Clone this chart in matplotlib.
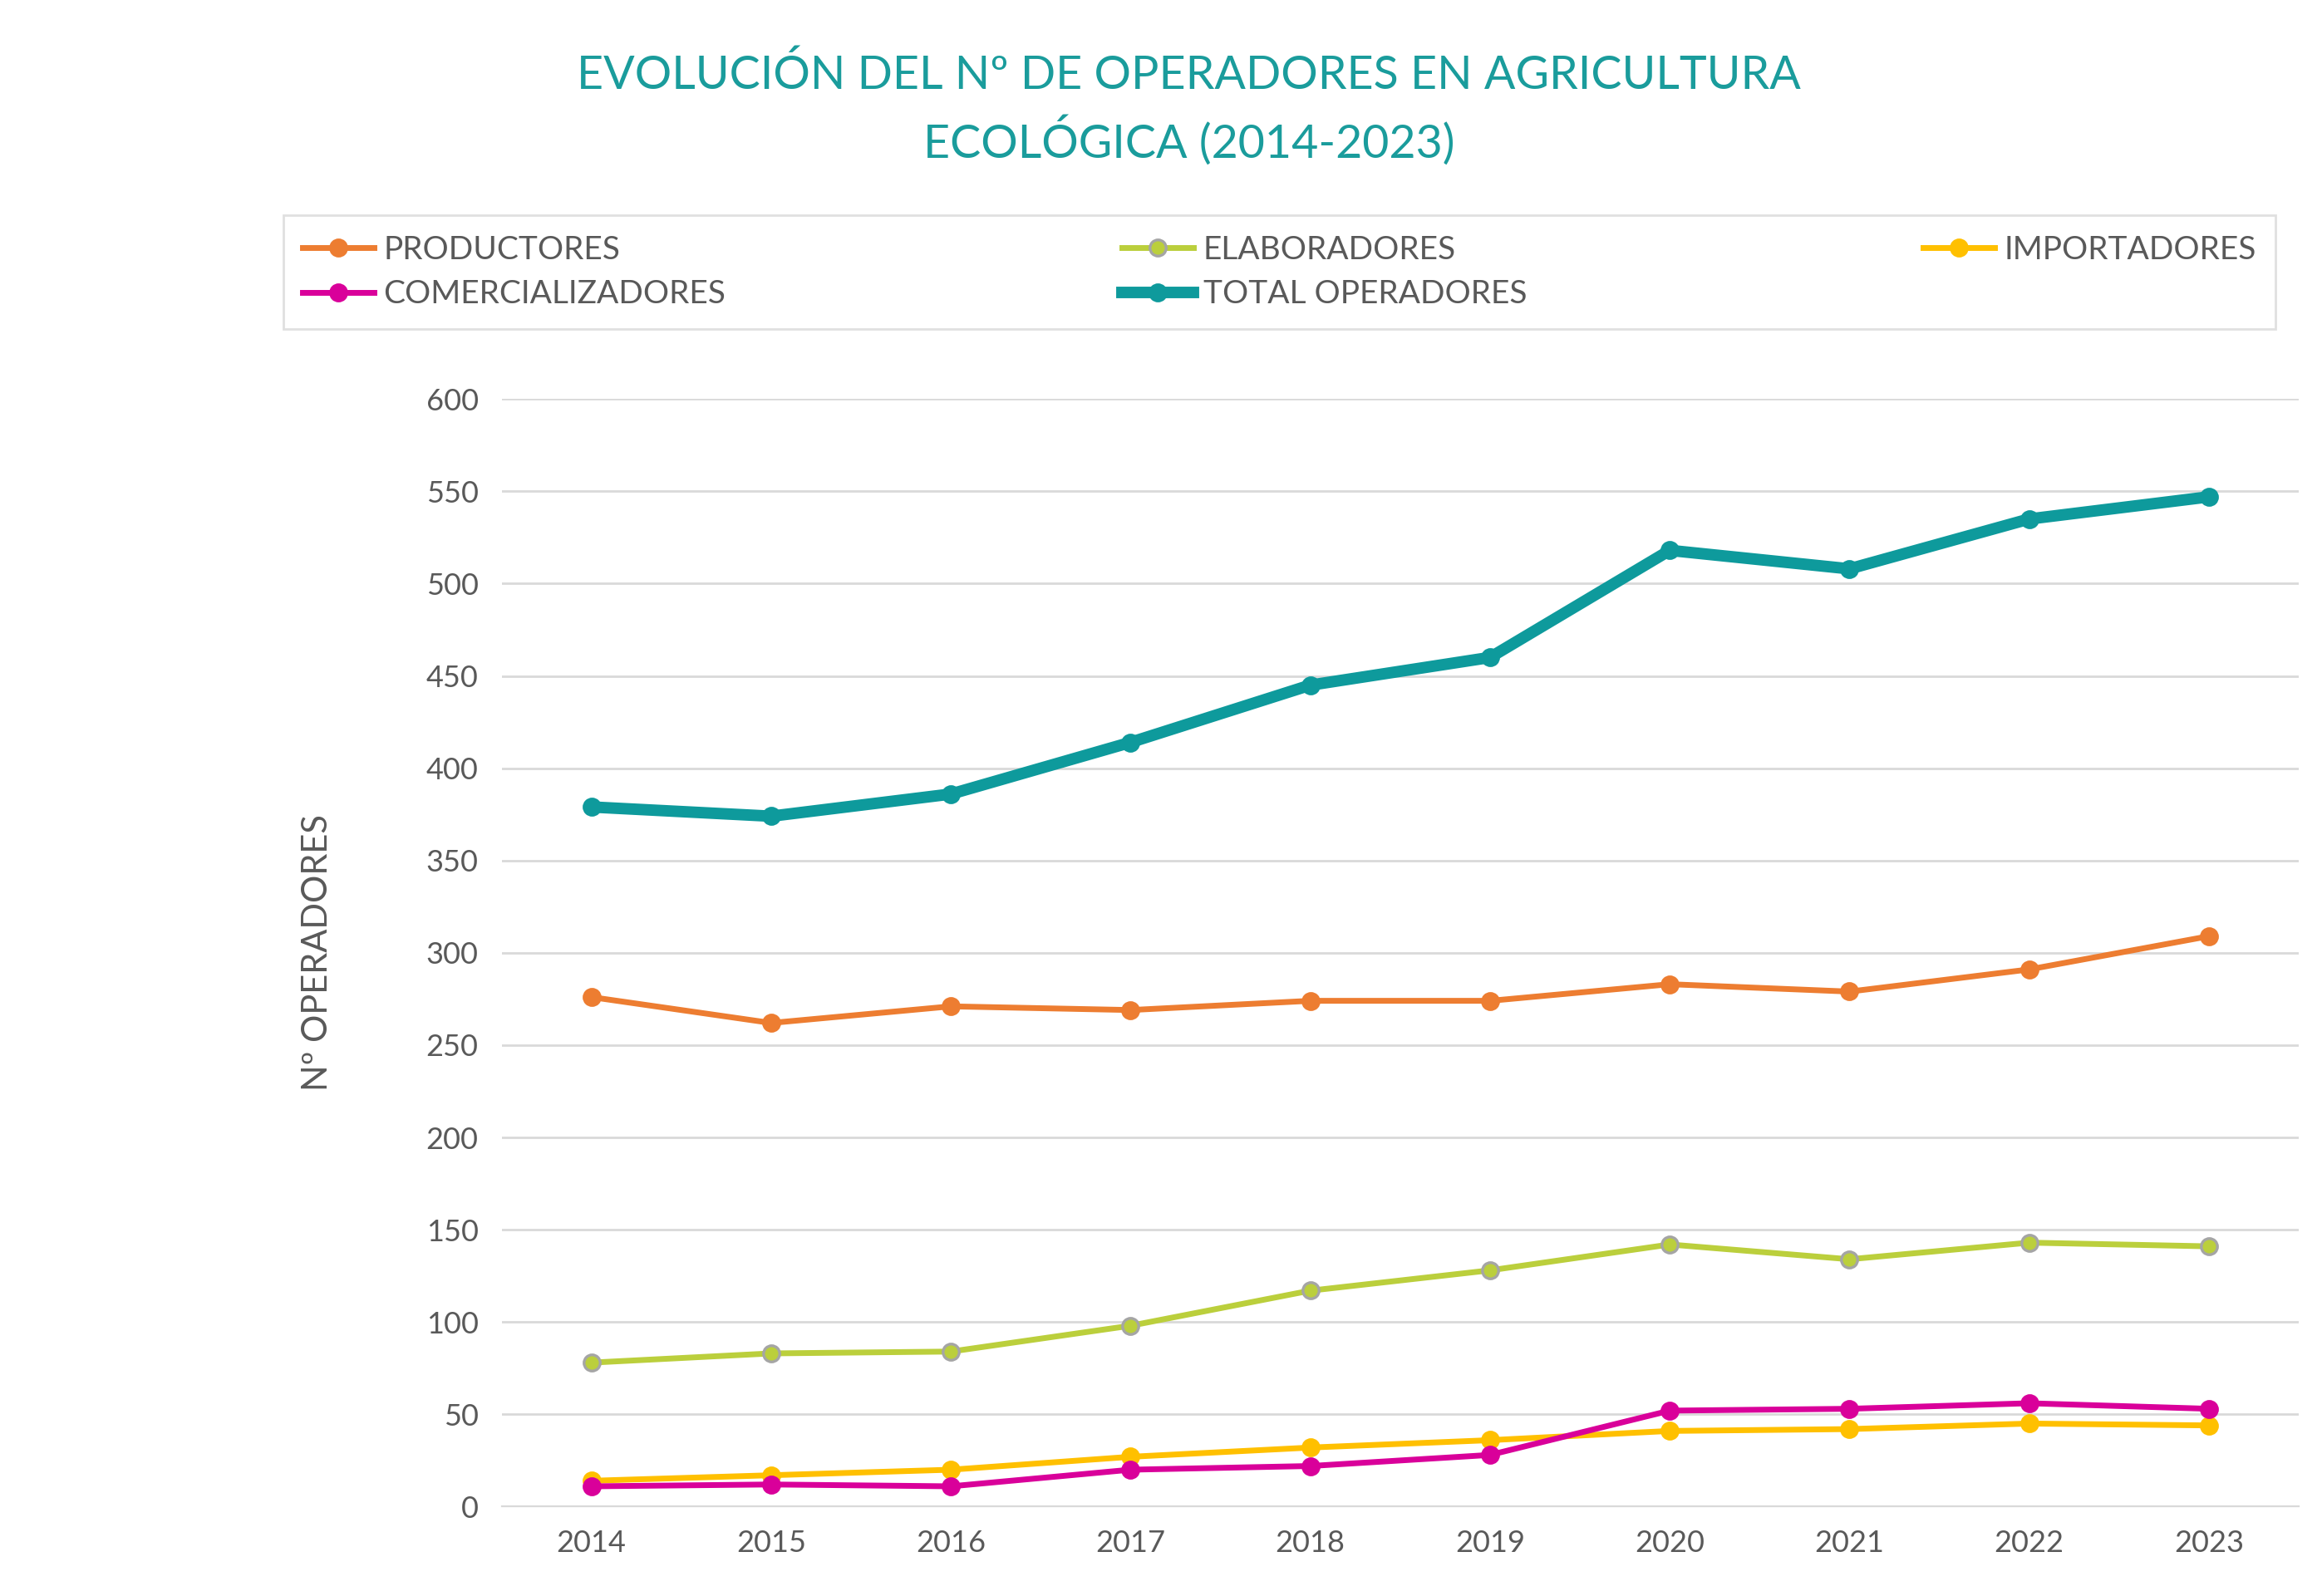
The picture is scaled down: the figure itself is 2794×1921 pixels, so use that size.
import matplotlib
matplotlib.use("Agg")
import matplotlib.pyplot as plt

years = [2014, 2015, 2016, 2017, 2018, 2019, 2020, 2021, 2022, 2023]
productores = [276, 262, 271, 269, 274, 274, 283, 279, 291, 309]
elaboradores = [78, 83, 84, 98, 117, 128, 142, 134, 143, 141]
importadores = [14, 17, 20, 27, 32, 36, 41, 42, 45, 44]
comercializadores = [11, 12, 11, 20, 22, 28, 52, 53, 56, 53]
total = [379, 374, 386, 414, 445, 460, 518, 508, 535, 547]

plt.rcParams['font.family'] = ['Lato', 'DejaVu Sans']
fig = plt.figure(figsize=(13.97, 9.605), dpi=200)
ax = fig.add_axes([0.216, 0.056, 0.774, 0.694])
x = list(range(len(years)))

series = [
    ("PRODUCTORES", productores, '#ED7D31', '#ED7D31', 2.5),
    ("ELABORADORES", elaboradores, '#BBCF3C', '#A5A5A5', 2.5),
    ("IMPORTADORES", importadores, '#FFC000', '#FFC000', 2.5),
    ("COMERCIALIZADORES", comercializadores, '#D9009A', '#D9009A', 2.5),
    ("TOTAL OPERADORES", total, '#0E9A9C', '#0E9A9C', 5),
]
handles = []
for name, vals, c, ec, lw in series:
    h, = ax.plot(x, vals, color=c, lw=lw, marker='o', ms=7,
                 markerfacecolor=c, markeredgecolor=ec, markeredgewidth=1.2, label=name)
    handles.append(h)

ax.set_xlim(-0.5, len(years) - 0.5)
ax.set_ylim(0, 600)
ax.set_yticks(range(0, 601, 50))
ax.set_xticks(x)
ax.set_xticklabels([str(y) for y in years])
ax.grid(axis='y', color='#D9D9D9', lw=1)
ax.set_axisbelow(True)
for s in ['top', 'right', 'left']:
    ax.spines[s].set_visible(False)
ax.spines['bottom'].set_color('#D9D9D9')
ax.tick_params(length=0, labelsize=13, colors='#595959', pad=10)
ax.set_ylabel("Nº OPERADORES", fontsize=15, color='#595959', labelpad=40)

fig.text(0.512, 0.953, "EVOLUCIÓN DEL Nº DE OPERADORES EN AGRICULTURA", ha='center', va='center',
         fontsize=20, color='#1A9C9C')
fig.text(0.512, 0.912, "ECOLÓGICA (2014-2023)", ha='center', va='center',
         fontsize=20, color='#1A9C9C')

order = [0, 3, 1, 4, 2]
leg = fig.legend([handles[i] for i in order], [series[i][0] for i in order], loc='upper left',
                 bbox_to_anchor=(0.122, 0.797, 0.858, 0.068), mode='expand',
                 ncol=3, fontsize=14, frameon=True, fancybox=False,
                 edgecolor='#D9D9D9', handlelength=2.2, borderaxespad=0,
                 labelspacing=0.45, handletextpad=0.3, borderpad=0.6)
for t in leg.get_texts():
    t.set_color('#595959')
fig.savefig("out.png", dpi=200)
